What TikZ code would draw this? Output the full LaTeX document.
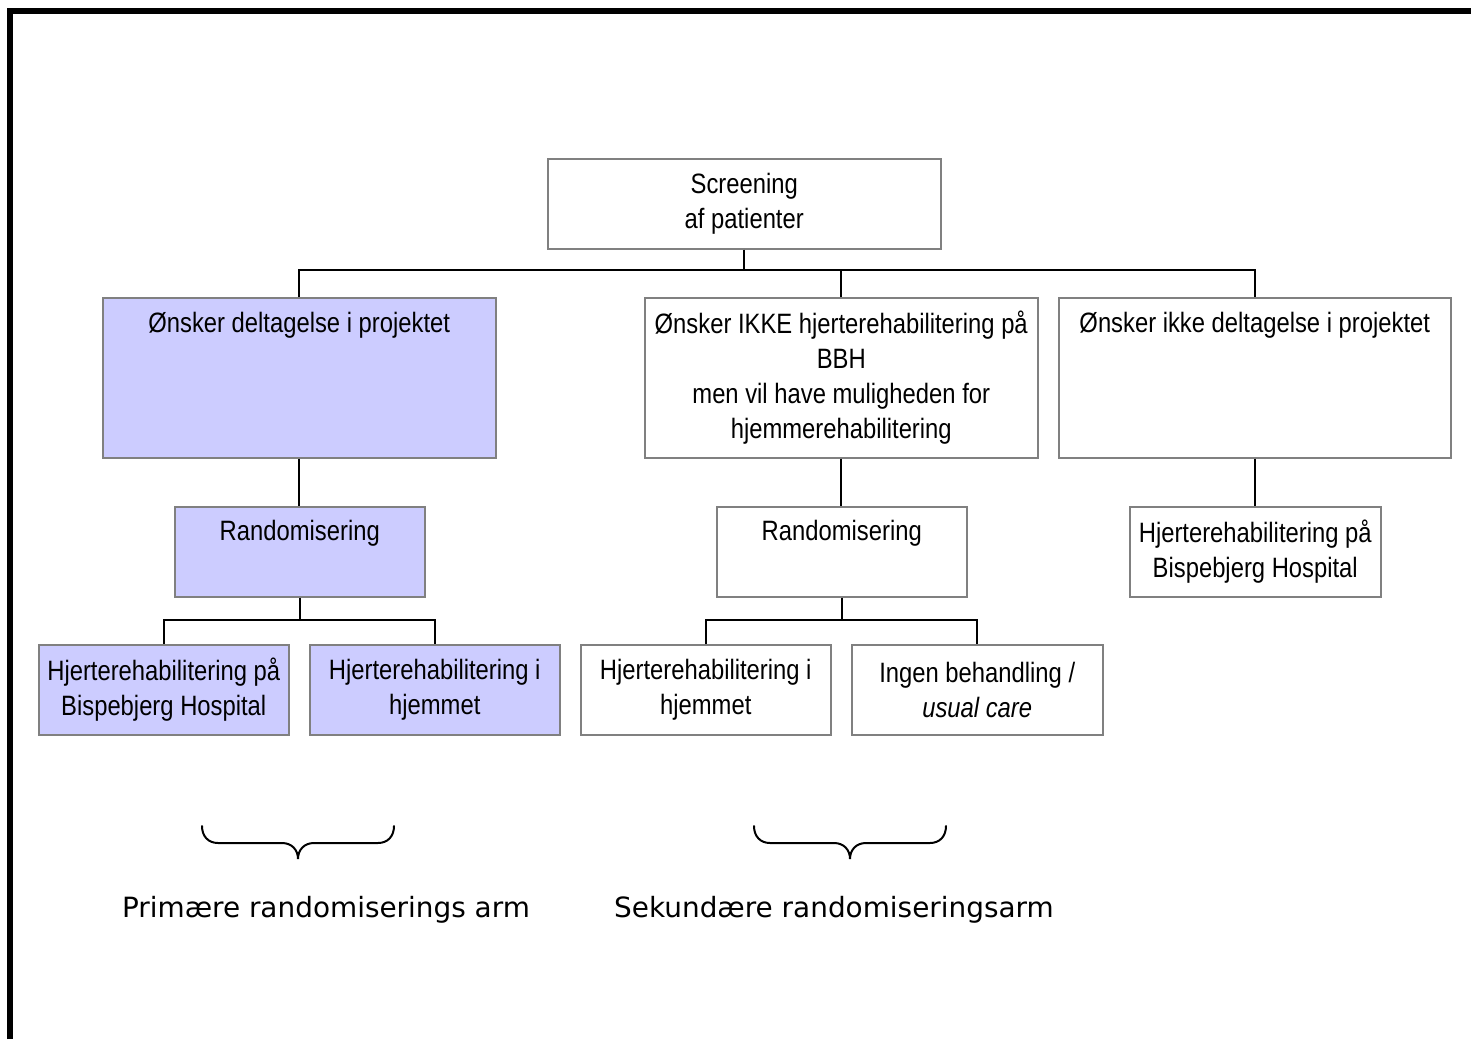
\documentclass[tikz,border=0pt]{standalone}
\usepackage{fontspec}
\setmainfont{Liberation Sans}[FakeStretch=0.85]
\newfontfamily\labfont{DejaVu Sans}
\definecolor{boxline}{RGB}{128,128,128}
\definecolor{lav}{RGB}{204,204,255}
\begin{document}
\begin{tikzpicture}[x=1pt,y=-1pt,
  bx/.style={draw=boxline,line width=1.5pt,fill=white,inner sep=0pt,anchor=north west},
  lavbox/.style={bx,fill=lav},
  txt/.style={align=center,font=\fontsize{28}{35}\selectfont,inner sep=0pt},
  conn/.style={draw=black,line width=1.6pt},
  brc/.style={draw=black,line width=2pt,line cap=round},
  lab/.style={font=\labfont\fontsize{27.9}{35}\selectfont,inner sep=0pt,anchor=base}]
\useasboundingbox (0,0) rectangle (1471,1039);
\fill[white] (0,0) rectangle (1471,1039);
% frame
\draw[line width=6pt,miter limit=10] (10,1039) -- (10,11) -- (1471,11);

% boxes
\node[bx,minimum width=393pt,minimum height=90pt] (scr) at (547,158) {};
\node[txt] at (scr.center) {Screening\\af patienter};

\node[lavbox,minimum width=393pt,minimum height=160pt] (A) at (102,297) {};
\node[txt,anchor=base] at ([yshift=-35pt]A.north) {Ønsker deltagelse i projektet};

\node[bx,minimum width=393pt,minimum height=160pt] (B) at (644,297) {};
\node[txt] at (B.center) {Ønsker IKKE hjerterehabilitering på\\BBH\\men vil have muligheden for\\hjemmerehabilitering};

\node[bx,minimum width=392pt,minimum height=160pt] (C) at (1058,297) {};
\node[txt,anchor=base] at ([yshift=-35pt]C.north) {Ønsker ikke deltagelse i projektet};

\node[lavbox,minimum width=250pt,minimum height=90pt] (RA) at (174,506) {};
\node[txt,anchor=base] at ([yshift=-34pt]RA.north) {Randomisering};

\node[bx,minimum width=250pt,minimum height=90pt] (RB) at (716,506) {};
\node[txt,anchor=base] at ([yshift=-34pt]RB.north) {Randomisering};

\node[bx,minimum width=251pt,minimum height=90pt] (C2) at (1129,506) {};
\node[txt] at (C2.center) {Hjerterehabilitering på\\Bispebjerg Hospital};

\node[lavbox,minimum width=250pt,minimum height=90pt] (A1) at (38,644) {};
\node[txt] at (A1.center) {Hjerterehabilitering på\\Bispebjerg Hospital};

\node[lavbox,minimum width=250pt,minimum height=90pt] (A2) at (309,644) {};
\node[txt] at (A2.center) {Hjerterehabilitering i\\hjemmet};

\node[bx,minimum width=250pt,minimum height=90pt] (B1) at (580,644) {};
\node[txt] at (B1.center) {Hjerterehabilitering i\\hjemmet};

\node[bx,minimum width=251pt,minimum height=90pt] (B2) at (851,644) {};
\node[txt] at (B2.center) {Ingen behandling /\\\textit{usual care}};

% connectors
\coordinate (bus) at (743,270);
\coordinate (ja) at (298,620);
\coordinate (jb) at (840,620);
\draw[conn] (scr.south) -- (scr.south |- bus);
\draw[conn] (A.north) |- (bus) -| (C.north);
\draw[conn] (B.north) -- (B.north |- bus);
\draw[conn] (A.south) -- (A.south |- RA.north);
\draw[conn] (B.south) -- (B.south |- RB.north);
\draw[conn] (C.south) -- (C.south |- C2.north);
\draw[conn] (RA.south) -- (RA.south |- ja);
\draw[conn] (A1.north) |- (ja) -| (A2.north);
\draw[conn] (RB.south) -- (RB.south |- jb);
\draw[conn] (B1.north) |- (jb) -| (B2.north);

% braces
\draw[brc] (202,826) .. controls (202,836) and (208,843) .. (218,843) -- (282,843)
  .. controls (292,843) and (298,850) .. (298,859)
  .. controls (298,850) and (304,843) .. (314,843) -- (378,843)
  .. controls (388,843) and (394,836) .. (394,826);
\draw[brc] (754,826) .. controls (754,836) and (760,843) .. (770,843) -- (834,843)
  .. controls (844,843) and (850,850) .. (850,859)
  .. controls (850,850) and (856,843) .. (866,843) -- (930,843)
  .. controls (940,843) and (946,836) .. (946,826);

% labels
\node[lab] (l1) at (326,917) {Primære randomiserings arm};
\node[lab] (l2) at (834,917) {Sekundære randomiseringsarm};
\end{tikzpicture}
\end{document}
